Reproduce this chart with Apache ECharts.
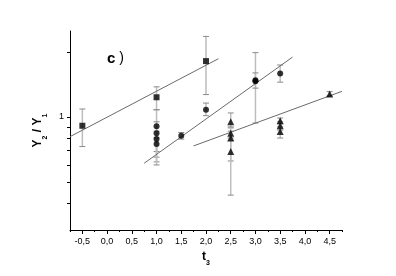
<!DOCTYPE html>
<html><head><meta charset="utf-8">
<script src="https://cdn.jsdelivr.net/npm/echarts@6/dist/echarts.min.js"></script>
<style>html,body{margin:0;padding:0;background:#fff}#c{width:396px;height:276px}</style>
</head><body><div id="c"></div>
<script>
// ---- data ----
const xTicks = [-0.5, 0, 0.5, 1, 1.5, 2, 2.5, 3, 3.5, 4, 4.5];
const xMinorTicks = [-0.75, -0.25, 0.25, 0.75, 1.25, 1.75, 2.25, 2.75, 3.25, 3.75, 4.25, 4.75];
const yTicks = [0.4, 0.5, 0.6, 0.7, 0.8, 0.9, 1, 2];
const yLabels = [1];

const sqX  = [-0.5, 1.0, 2.0];
const sqY  = [0.911, 1.234, 1.814];
const sqLo = [0.73, 1.08, 1.27];
const sqHi = [1.089, 1.379, 2.36];

const ciX  = [1.0, 1.0, 1.0, 1.0, 1.5, 2.0, 3.0, 3.0, 3.5];
const ciY  = [0.906, 0.841, 0.790, 0.751, 0.818, 1.081, 1.464, 1.48, 1.59];
const ciLo = [0.692, 0.652, 0.62, 0.60, 0.79, 1.014, 0.938, 1.36, 1.45];
const ciHi = [1.08, 0.95, 0.86, 0.80, 0.848, 1.16, 1.985, 1.60, 1.74];

const trX  = [2.5, 2.5, 2.5, 2.5, 3.5, 3.5, 3.5, 4.5];
const trY  = [0.951, 0.84, 0.80, 0.692, 0.961, 0.911, 0.857, 1.279];
const trLo = [0.89, 0.78, 0.626, 0.435, 0.93, 0.87, 0.799, 1.25];
const trHi = [1.044, 0.90, 0.86, 0.80, 0.989, 0.95, 0.90, 1.31];

const fit1X = [-0.75, 2.25], fit1Y = [0.811, 1.86];
const fit2X = [0.75, 3.75],  fit2Y = [0.611, 1.893];
const fit3X = [1.75, 4.75],  fit3Y = [0.735, 1.315];

// ---- helpers ----
const zip = (a, b) => a.map((v, i) => [v, b[i]]);
function errSeries(xs, lo, hi) {
  return {
    type: 'custom', silent: true, z: 1,
    data: xs.map((x, i) => [x, lo[i], hi[i]]),
    encode: { x: 0, y: [1, 2] },
    renderItem: (params, api) => {
      const x = api.value(0);
      const p1 = api.coord([x, api.value(1)]);
      const p2 = api.coord([x, api.value(2)]);
      const w = 3;
      return { type: 'group', children: [
        { type: 'line', shape: { x1: p1[0], y1: p1[1], x2: p2[0], y2: p2[1] }, style: { stroke: '#bdbdbd', lineWidth: 1.5 } },
        { type: 'line', shape: { x1: p1[0] - w, y1: p1[1], x2: p1[0] + w, y2: p1[1] }, style: { stroke: '#8a8a8a', lineWidth: 1 } },
        { type: 'line', shape: { x1: p2[0] - w, y1: p2[1], x2: p2[0] + w, y2: p2[1] }, style: { stroke: '#8a8a8a', lineWidth: 1 } }
      ]};
    }
  };
}
function fitSeries(xs, ys) {
  return { type: 'line', data: zip(xs, ys), symbol: 'none', silent: true, z: 2,
    lineStyle: { color: '#6a6a6a', width: 1 } };
}
function ptSeries(xs, ys, sym, size) {
  return { type: 'scatter', data: zip(xs, ys), symbol: sym, symbolSize: size, z: 3,
    itemStyle: { color: '#000' } };
}

const font = 'Liberation Sans, Arial, sans-serif';
const chart = echarts.init(document.getElementById('c'), null, { renderer: 'canvas' });
chart.setOption({
  animation: false,
  textStyle: { fontFamily: font },
  title: {
    text: '{b|c} )', left: 102, top: 46,
    textStyle: { fontSize: 14, fontWeight: 'normal', color: '#000', fontFamily: font,
      rich: { b: { fontSize: 15, fontWeight: 'bold', color: '#000', fontFamily: font } } }
  },
  grid: { left: 70, right: 54, top: 31, bottom: 46 },
  xAxis: [{
    type: 'value', min: -0.75, max: 4.75,
    name: '{b|t}{s|3}', nameLocation: 'middle', nameGap: 15,
    nameTextStyle: { rich: {
      b: { fontSize: 12, fontWeight: 'bold', color: '#000', fontFamily: font, lineHeight: 16, verticalAlign: 'bottom' },
      s: { fontSize: 7, fontWeight: 'bold', color: '#000', fontFamily: font, lineHeight: 16, verticalAlign: 'bottom', padding: [0, 0, -4, 0] } } },
    splitLine: { show: false },
    axisLine: { onZero: false, lineStyle: { color: '#000', width: 1 } },
    axisTick: { customValues: xTicks, length: 4, lineStyle: { color: '#000' } },
    axisLabel: { customValues: xTicks, fontSize: 9, color: '#000', margin: 7,
      formatter: v => v.toFixed(1).replace('.', ',') }
  }, {
    type: 'value', min: -0.75, max: 4.75, position: 'bottom', gridIndex: 0,
    splitLine: { show: false }, axisLine: { show: false, onZero: false },
    axisTick: { customValues: xMinorTicks, length: 2, lineStyle: { color: '#000' } },
    axisLabel: { show: false }
  }],
  yAxis: {
    type: 'log', min: 0.3, max: 2.5,
    name: '{b|Y}{s|2}{b| / Y}{s|1}', nameLocation: 'middle', nameGap: 19, nameRotate: 90,
    nameTextStyle: { rich: {
      b: { fontSize: 12, fontWeight: 'bold', color: '#000', fontFamily: font, lineHeight: 16, verticalAlign: 'bottom' },
      s: { fontSize: 7, fontWeight: 'bold', color: '#000', fontFamily: font, lineHeight: 16, verticalAlign: 'bottom', padding: [0, 0, -4, 0] } } },
    splitLine: { show: false },
    axisLine: { show: true, onZero: false, lineStyle: { color: '#000', width: 1 } },
    axisTick: { show: true, customValues: yTicks, length: 3, lineStyle: { color: '#000' } },
    axisLabel: { customValues: yLabels, fontSize: 9, color: '#000', margin: 6, formatter: v => String(v) }
  },
  series: [
    errSeries(sqX, sqLo, sqHi),
    errSeries(ciX, ciLo, ciHi),
    errSeries(trX, trLo, trHi),
    fitSeries(fit1X, fit1Y),
    fitSeries(fit2X, fit2Y),
    fitSeries(fit3X, fit3Y),
    ptSeries(sqX, sqY, 'rect', 6),
    ptSeries(ciX, ciY, 'circle', 6),
    ptSeries(trX, trY, 'triangle', 7)
  ]
});
</script></body></html>
